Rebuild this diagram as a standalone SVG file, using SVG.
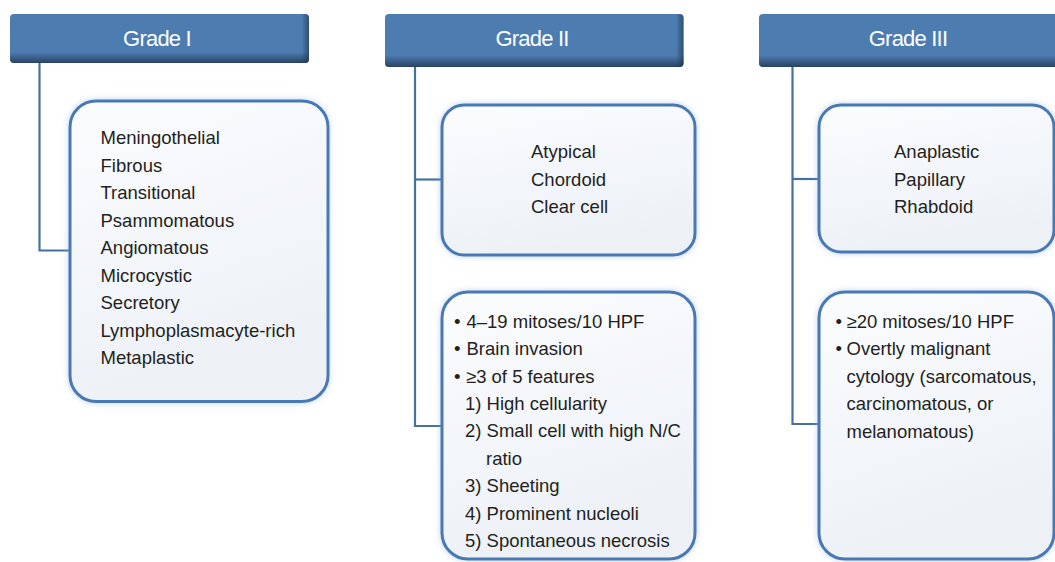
<svg xmlns="http://www.w3.org/2000/svg" width="1055" height="562" viewBox="0 0 1055 562">
  <defs>
    <linearGradient id="boxfill" x1="0" y1="0" x2="0.3" y2="1">
      <stop offset="0" stop-color="#fbfcfe"/>
      <stop offset="1" stop-color="#edf1f6"/>
    </linearGradient>
    <linearGradient id="shadeV" x1="0" y1="0" x2="0" y2="1">
      <stop offset="0" stop-color="#1c2f48" stop-opacity="0"/>
      <stop offset="0.78" stop-color="#1c2f48" stop-opacity="0"/>
      <stop offset="1" stop-color="#1c2f48" stop-opacity="0.75"/>
    </linearGradient>
    <linearGradient id="shadeH" x1="0" y1="0" x2="1" y2="0">
      <stop offset="0" stop-color="#1c2f48" stop-opacity="0"/>
      <stop offset="0.975" stop-color="#1c2f48" stop-opacity="0"/>
      <stop offset="1" stop-color="#1c2f48" stop-opacity="0.6"/>
    </linearGradient>
    <filter id="glow" x="-10%" y="-10%" width="120%" height="120%">
      <feGaussianBlur in="SourceAlpha" stdDeviation="3" result="b"/>
      <feFlood flood-color="#8fb2dc" flood-opacity="0.55"/>
      <feComposite in2="b" operator="in" result="g"/>
      <feMerge>
        <feMergeNode in="g"/>
        <feMergeNode in="SourceGraphic"/>
      </feMerge>
    </filter>
  </defs>
  <style>
    .hdr { fill: #4d7cb0; }
    .sv { fill: url(#shadeV); }
    .sh { fill: url(#shadeH); }
    .htxt { font-family: "Liberation Sans", Arial, sans-serif; font-size: 22px; fill: #ffffff; text-anchor: middle; letter-spacing: -0.8px; }
    .box { fill: url(#boxfill); stroke: #4a79b4; stroke-width: 3; filter: url(#glow); }
    .t { font-family: "Liberation Sans", Arial, sans-serif; font-size: 18.5px; fill: #231f20; }
    .conn { fill: none; stroke: #46709f; stroke-width: 2.2; }
  </style>
  <rect width="1055" height="562" fill="#ffffff"/>

  <g id="connectors">
    <path class="conn" d="M39.5 62 V250.5 H70"/>
    <path class="conn" d="M415 66 V426 H442"/>
    <path class="conn" d="M415 179.5 H442"/>
    <path class="conn" d="M792.5 66 V424 H819"/>
    <path class="conn" d="M792.5 179 H819"/>
  </g>

  <g id="grade1-header">
    <rect class="hdr" x="10" y="14" width="299" height="49" rx="4"/>
    <rect class="sv" x="10" y="14" width="299" height="49" rx="4"/>
    <rect class="sh" x="10" y="14" width="299" height="49" rx="4"/>
    <text class="htxt" x="157" y="45.5">Grade I</text>
  </g>
  <g id="grade2-header">
    <rect class="hdr" x="385" y="14" width="298.5" height="53" rx="4"/>
    <rect class="sv" x="385" y="14" width="298.5" height="53" rx="4"/>
    <rect class="sh" x="385" y="14" width="298.5" height="53" rx="4"/>
    <text class="htxt" x="532" y="45.5">Grade II</text>
  </g>
  <g id="grade3-header">
    <rect class="hdr" x="759" y="14" width="300" height="53" rx="4"/>
    <rect class="sv" x="759" y="14" width="300" height="53" rx="4"/>
    <text class="htxt" x="908" y="45.5">Grade III</text>
  </g>

  <g id="grade1-subtypes">
    <rect class="box" x="70" y="101" width="258" height="300.5" rx="26"/>
    <text class="t" x="100.5" y="144">Meningothelial</text>
    <text class="t" x="100.5" y="171.5">Fibrous</text>
    <text class="t" x="100.5" y="199">Transitional</text>
    <text class="t" x="100.5" y="226.5">Psammomatous</text>
    <text class="t" x="100.5" y="254">Angiomatous</text>
    <text class="t" x="100.5" y="281.5">Microcystic</text>
    <text class="t" x="100.5" y="309">Secretory</text>
    <text class="t" x="100.5" y="336.5">Lymphoplasmacyte-rich</text>
    <text class="t" x="100.5" y="364">Metaplastic</text>
  </g>

  <g id="grade2-subtypes">
    <rect class="box" x="442" y="105" width="253" height="150" rx="22"/>
    <text class="t" x="531" y="158">Atypical</text>
    <text class="t" x="531" y="185.5">Chordoid</text>
    <text class="t" x="531" y="213">Clear cell</text>
  </g>

  <g id="grade2-criteria">
    <rect class="box" x="442" y="292" width="253" height="267" rx="26"/>
    <text class="t" x="454" y="327.5">•</text>
    <text class="t" x="466.5" y="327.5">4–19 mitoses/10 HPF</text>
    <text class="t" x="454" y="355">•</text>
    <text class="t" x="466.5" y="355">Brain invasion</text>
    <text class="t" x="454" y="382.5">•</text>
    <text class="t" x="466" y="382.5">≥3 of 5 features</text>
    <text class="t" x="465" y="410">1) High cellularity</text>
    <text class="t" x="465" y="437">2) Small cell with high N/C</text>
    <text class="t" x="486" y="464.5">ratio</text>
    <text class="t" x="465" y="492">3) Sheeting</text>
    <text class="t" x="465" y="519.5">4) Prominent nucleoli</text>
    <text class="t" x="465" y="547">5) Spontaneous necrosis</text>
  </g>

  <g id="grade3-subtypes">
    <rect class="box" x="819" y="105" width="235" height="147" rx="22"/>
    <text class="t" x="894" y="158">Anaplastic</text>
    <text class="t" x="894" y="185.5">Papillary</text>
    <text class="t" x="894" y="213">Rhabdoid</text>
  </g>

  <g id="grade3-criteria">
    <rect class="box" x="819" y="292" width="235" height="267" rx="26"/>
    <text class="t" x="835.5" y="327.5">•</text>
    <text class="t" x="846.5" y="327.5">≥20 mitoses/10 HPF</text>
    <text class="t" x="835.5" y="355">•</text>
    <text class="t" x="846.5" y="355">Overtly malignant</text>
    <text class="t" x="846.5" y="382.5">cytology (sarcomatous,</text>
    <text class="t" x="846.5" y="410">carcinomatous, or</text>
    <text class="t" x="846.5" y="437.5">melanomatous)</text>
  </g>
</svg>
